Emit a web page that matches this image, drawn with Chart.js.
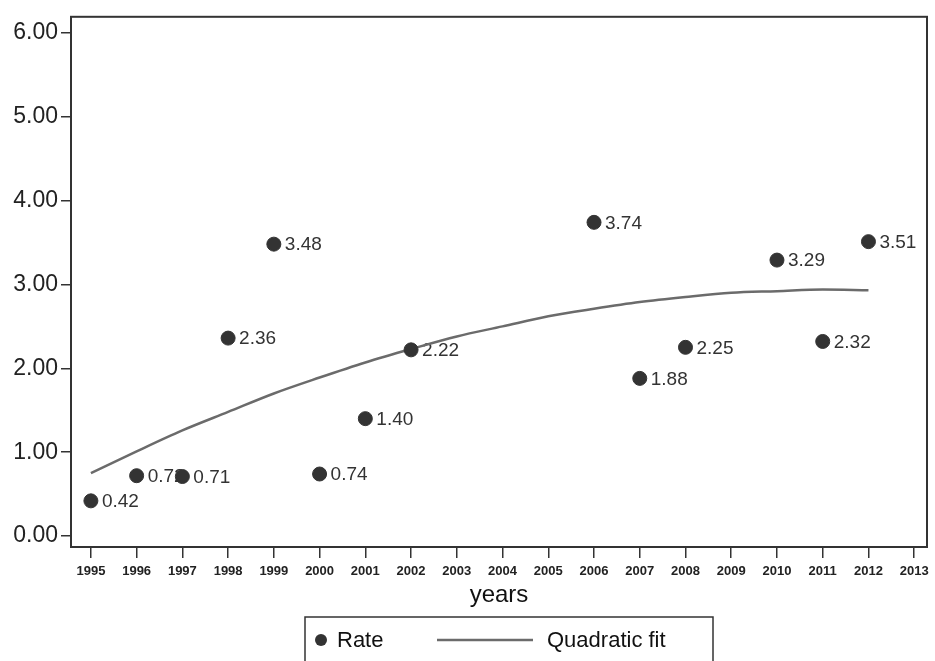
<!DOCTYPE html>
<html>
<head>
<meta charset="utf-8">
<script src="https://cdn.jsdelivr.net/npm/chart.js@4/dist/chart.umd.min.js"></script>
<style>
  html, body { margin: 0; padding: 0; background: #ffffff; overflow: hidden; }
  #wrap { width: 935px; height: 661px; position: relative; }
  canvas { display: block; }
</style>
</head>
<body>
<div id="wrap"><canvas id="c" width="935" height="661"></canvas></div>
<script>
const years = [1995, 1996, 1997, 1998, 1999, 2000, 2001, 2002, 2006, 2007, 2008, 2010, 2011, 2012];
const rates = [0.42, 0.72, 0.71, 2.36, 3.48, 0.74, 1.40, 2.22, 3.74, 1.88, 2.25, 3.29, 2.32, 3.51];
const fitYears = [1995, 1996, 1997, 1998, 1999, 2000, 2001, 2002, 2003, 2004, 2005, 2006, 2007, 2008, 2009, 2010, 2011, 2012];
const fitValues = [0.75, 1.01, 1.26, 1.48, 1.70, 1.89, 2.07, 2.23, 2.38, 2.50, 2.62, 2.71, 2.79, 2.85, 2.90, 2.92, 2.94, 2.93];
const xTicks = [1995, 1996, 1997, 1998, 1999, 2000, 2001, 2002, 2003, 2004, 2005, 2006, 2007, 2008, 2009, 2010, 2011, 2012, 2013];
const yTicks = [0, 1, 2, 3, 4, 5, 6];
const xTitle = 'years';
const legendLabels = ['Rate', 'Quadratic fit'];

const INK = '#333333';
const FIT = '#6b6b6b';

const frameAndLabels = {
  id: 'frameAndLabels',
  beforeDatasetsDraw(chart) {
    const ctx = chart.ctx;
    const xs = chart.scales.x, ys = chart.scales.y;
    ctx.save();
    ctx.font = '19px "Liberation Sans", Arial, sans-serif';
    ctx.fillStyle = INK;
    ctx.textAlign = 'left';
    ctx.textBaseline = 'middle';
    years.forEach((yr, i) => {
      const px = xs.getPixelForValue(yr);
      const py = ys.getPixelForValue(rates[i]);
      ctx.fillText(rates[i].toFixed(2), px + 11, py + 1);
    });
    ctx.restore();
  },
  afterDraw(chart) {
    const ctx = chart.ctx;
    const a = chart.chartArea;
    ctx.save();
    ctx.strokeStyle = INK;
    ctx.lineWidth = 2;
    ctx.strokeRect(a.left, a.top, a.right - a.left, a.bottom - a.top);
    // legend
    const lx = 305, ly = 617, lw = 408, lh = 60;
    ctx.lineWidth = 1.5;
    ctx.strokeRect(lx, ly, lw, lh);
    ctx.fillStyle = INK;
    ctx.beginPath();
    ctx.arc(321, 640, 6, 0, Math.PI * 2);
    ctx.fill();
    ctx.font = '22px "Liberation Sans", Arial, sans-serif';
    ctx.textBaseline = 'middle';
    ctx.textAlign = 'left';
    ctx.fillStyle = '#111111';
    ctx.fillText(legendLabels[0], 337, 641);
    ctx.strokeStyle = FIT;
    ctx.lineWidth = 2.5;
    ctx.beginPath();
    ctx.moveTo(437, 640);
    ctx.lineTo(533, 640);
    ctx.stroke();
    ctx.fillText(legendLabels[1], 547, 641);
    ctx.restore();
  }
};

new Chart(document.getElementById('c'), {
  type: 'scatter',
  data: {
    datasets: [
      {
        label: legendLabels[0],
        data: years.map((y, i) => ({ x: y, y: rates[i] })),
        backgroundColor: INK,
        borderColor: INK,
        pointRadius: 7,
        pointHoverRadius: 7,
        order: 0
      },
      {
        label: legendLabels[1],
        type: 'line',
        data: fitYears.map((y, i) => ({ x: y, y: fitValues[i] })),
        borderColor: FIT,
        borderWidth: 2.5,
        pointRadius: 0,
        tension: 0.4,
        cubicInterpolationMode: 'monotone',
        fill: false,
        order: 1
      }
    ]
  },
  options: {
    responsive: false,
    animation: false,
    events: [],
    layout: { padding: { top: 14, right: 3, bottom: 51, left: 0 } },
    plugins: { legend: { display: false }, tooltip: { enabled: false } },
    scales: {
      x: {
        type: 'linear',
        min: 1994.565,
        max: 2013.28,
        afterBuildTicks(scale) { scale.ticks = xTicks.map(v => ({ value: v })); },
        afterFit(scale) { scale.height = 63; },
        grid: { display: true, drawOnChartArea: false, drawTicks: true, tickLength: 11, color: INK, lineWidth: 1.5 },
        border: { display: false },
        ticks: {
          autoSkip: false, maxRotation: 0, minRotation: 0, padding: 0,
          color: '#222222',
          font: { family: '"Liberation Sans Narrow", "Liberation Sans", Arial, sans-serif', size: 13, weight: 'bold', lineHeight: 2.1 },
          callback: v => String(v)
        },
        title: {
          display: true, text: xTitle, color: '#111111',
          font: { family: '"Liberation Sans Narrow", "Liberation Sans", Arial, sans-serif', size: 24 },
          padding: { top: 0, bottom: 0 }
        }
      },
      y: {
        type: 'linear',
        min: -0.13,
        max: 6.19,
        afterBuildTicks(scale) { scale.ticks = yTicks.map(v => ({ value: v })); },
        afterFit(scale) { scale.width = 71; },
        grid: { display: true, drawOnChartArea: false, drawTicks: true, tickLength: 10, color: INK, lineWidth: 1.5 },
        border: { display: false },
        ticks: {
          padding: 3, color: '#222222',
          font: { family: '"Liberation Sans", Arial, sans-serif', size: 23 },
          callback: v => Number(v).toFixed(2)
        }
      }
    }
  },
  plugins: [frameAndLabels]
});
</script>
</body>
</html>
